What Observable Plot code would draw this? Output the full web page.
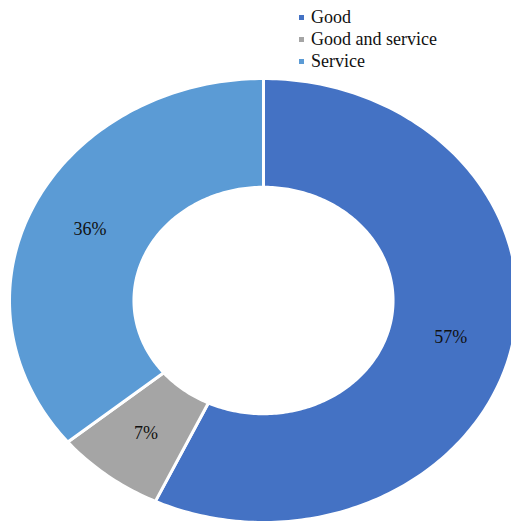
<!DOCTYPE html>
<html>
<head>
<meta charset="utf-8">
<script src="https://cdn.jsdelivr.net/npm/d3@7"></script>
<script src="https://cdn.jsdelivr.net/npm/@observablehq/plot@0.6"></script>
<style>
  html, body { margin: 0; padding: 0; background: #fff; overflow: hidden; }
  #wrap { position: relative; width: 511px; height: 525px; }
  #legend { position: absolute; left: 299px; top: 6px; font-family: "Liberation Serif", Tinos, "Times New Roman", serif; font-size: 18px; color: #111; }
  .row { display: flex; align-items: center; height: 22px; }
  .sw { width: 5px; height: 5px; margin-right: 7px; }
</style>
</head>
<body>
<div id="wrap"><div id="legend"></div></div>
<script>
const categories = ["Good", "Good and service", "Service"];
const shares = [57, 7, 36];
const colors = ["#4472C4", "#A5A5A5", "#5B9BD5"];
const labels = ["57%", "7%", "36%"];

const serif = "Liberation Serif, Tinos, Times New Roman, serif";
const innerRatio = 0.51;
const total = d3.sum(shares);
let acc = 0;
const ring = [];
const labelPts = [];
categories.forEach((cat, i) => {
  const a0 = acc / total * 2 * Math.PI;
  acc += shares[i];
  const a1 = acc / total * 2 * Math.PI;
  const n = Math.max(8, Math.ceil((a1 - a0) / (Math.PI / 180)));
  for (let k = 0; k <= n; k++) {
    const a = a0 + (a1 - a0) * k / n;
    ring.push({cat, x: Math.sin(a), y: Math.cos(a)});
  }
  for (let k = n; k >= 0; k--) {
    const a = a0 + (a1 - a0) * k / n;
    ring.push({cat, x: innerRatio * Math.sin(a), y: innerRatio * Math.cos(a)});
  }
  const am = (a0 + a1) / 2, rm = (1 + innerRatio) / 2;
  labelPts.push({text: labels[i], x: rm * Math.sin(am), y: rm * Math.cos(am)});
});

const chart = Plot.plot({
  width: 511,
  height: 525,
  margin: 0,
  style: {background: "transparent"},
  x: {domain: [-1, 1], range: [9, 517], axis: null},
  y: {domain: [-1, 1], range: [522, 78], axis: null},
  color: {domain: categories, range: colors},
  marks: [
    Plot.line(ring, {x: "x", y: "y", z: "cat", fill: "cat", stroke: "white", strokeWidth: 3, curve: "linear-closed"}),
    Plot.text(labelPts, {x: "x", y: "y", text: "text", fontSize: 18, fontFamily: serif, fill: "#111"})
  ]
});
document.getElementById("wrap").prepend(chart);

const legend = document.getElementById("legend");
categories.forEach((cat, i) => {
  const row = document.createElement("div");
  row.className = "row";
  const sw = document.createElement("span");
  sw.className = "sw";
  sw.style.background = colors[i];
  const t = document.createElement("span");
  t.textContent = cat;
  row.append(sw, t);
  legend.append(row);
});
</script>
</body>
</html>
